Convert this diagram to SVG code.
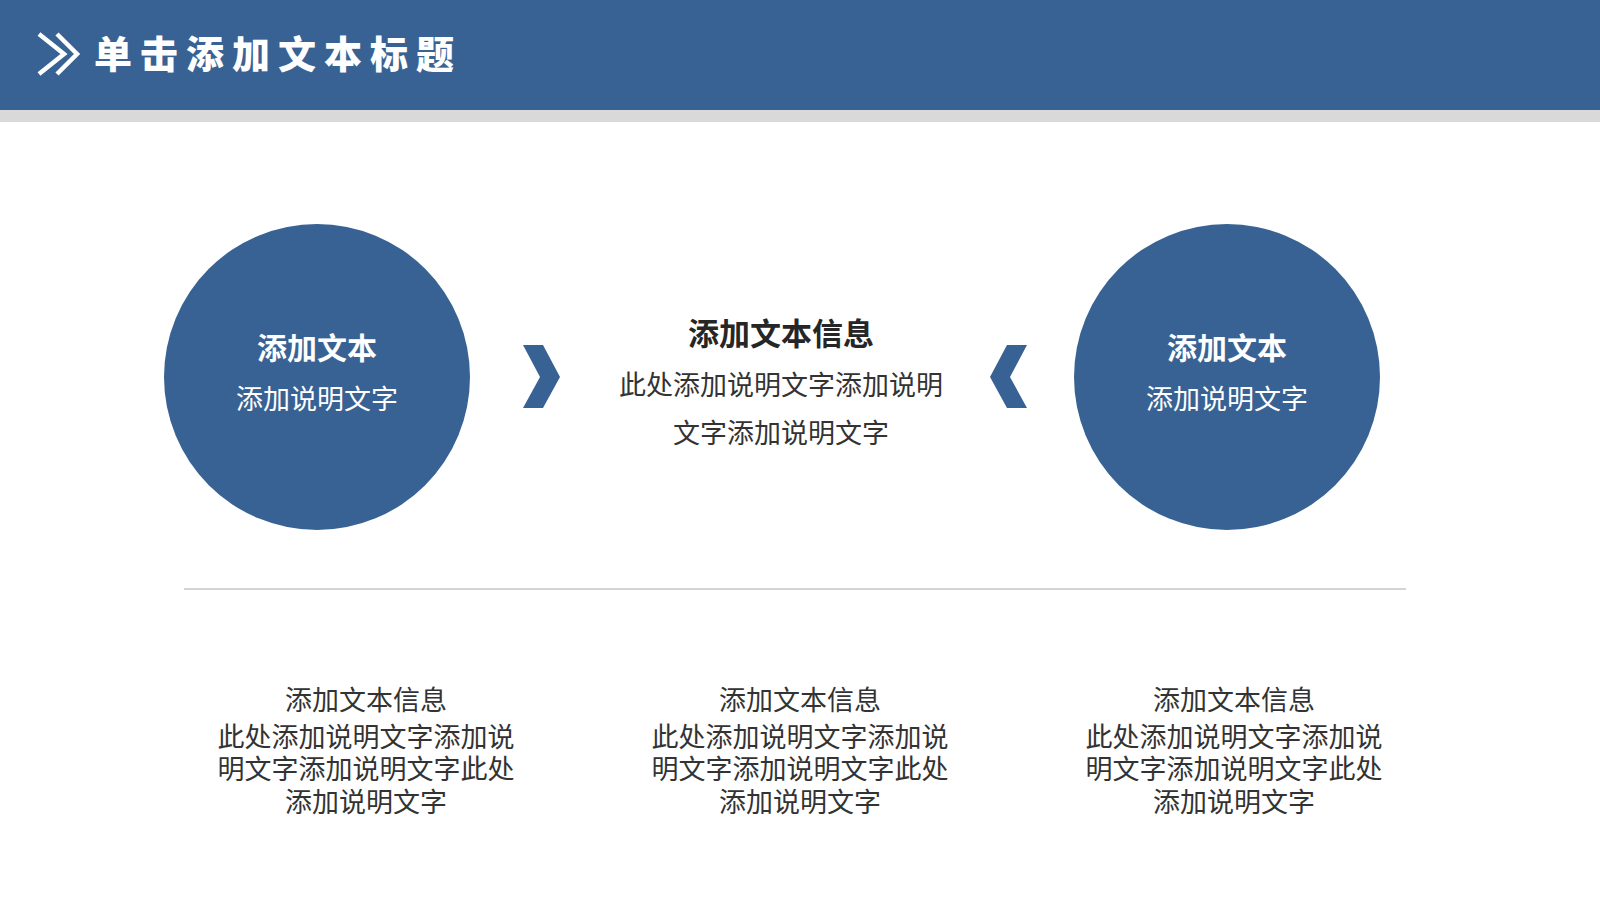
<svg xmlns="http://www.w3.org/2000/svg" width="1600" height="900" viewBox="0 0 1600 900">
<style>
text{font-family:"Noto Sans CJK SC","Noto Sans",sans-serif;text-anchor:middle}
.hd{fill:#ffffff;font-size:38px;font-weight:900;letter-spacing:8px;text-anchor:start}
.ct{fill:#ffffff;font-size:30px;font-weight:700}
.cs{fill:#ffffff;font-size:27px}
.mt{fill:#262626;font-size:31px;font-weight:700}
.ms{fill:#333333;font-size:27px}
.bt{fill:#333333;font-size:27px}
.circ{fill:#386293}
.chev{fill:#386293}
</style>
<rect x="0" y="0" width="1600" height="900" fill="#ffffff"/>
<g id="header">
<rect x="0" y="0" width="1600" height="110" fill="#386293"/>
<rect x="0" y="110" width="1600" height="12" fill="#d9d9d9"/>
<polyline points="39,34 64,54 39,74" fill="none" stroke="#ffffff" stroke-width="4.5"/>
<polyline points="57,34 77,54 57,74" fill="none" stroke="#ffffff" stroke-width="4.5"/>
<text class="hd" x="94" y="68">单击添加文本标题</text>
</g>
<g id="circle-left">
<circle class="circ" cx="317" cy="377" r="153"/>
<text class="ct" x="317" y="359">添加文本</text>
<text class="cs" x="317" y="409">添加说明文字</text>
</g>
<g id="circle-right">
<circle class="circ" cx="1227" cy="377" r="153"/>
<text class="ct" x="1227" y="359">添加文本</text>
<text class="cs" x="1227" y="409">添加说明文字</text>
</g>
<g id="center-info">
<text class="mt" x="781" y="345">添加文本信息</text>
<text class="ms" x="781" y="395">此处添加说明文字添加说明</text>
<text class="ms" x="781" y="443">文字添加说明文字</text>
</g>
<g id="connectors">
<polygon class="chev" points="523,345 543,345 560,377 543,408 523,408 540,377"/>
<polygon class="chev" points="1027,345 1007,345 990,377 1007,408 1027,408 1010,377"/>
</g>
<line x1="184" y1="589" x2="1406" y2="589" stroke="#c6c4c9" stroke-width="1.5"/>
<g id="col-1">
<text class="bt" x="366" y="710">添加文本信息</text>
<text class="bt" x="366" y="747">此处添加说明文字添加说</text>
<text class="bt" x="366" y="779">明文字添加说明文字此处</text>
<text class="bt" x="366" y="812">添加说明文字</text>
</g>
<g id="col-2">
<text class="bt" x="800" y="710">添加文本信息</text>
<text class="bt" x="800" y="747">此处添加说明文字添加说</text>
<text class="bt" x="800" y="779">明文字添加说明文字此处</text>
<text class="bt" x="800" y="812">添加说明文字</text>
</g>
<g id="col-3">
<text class="bt" x="1234" y="710">添加文本信息</text>
<text class="bt" x="1234" y="747">此处添加说明文字添加说</text>
<text class="bt" x="1234" y="779">明文字添加说明文字此处</text>
<text class="bt" x="1234" y="812">添加说明文字</text>
</g>
</svg>
